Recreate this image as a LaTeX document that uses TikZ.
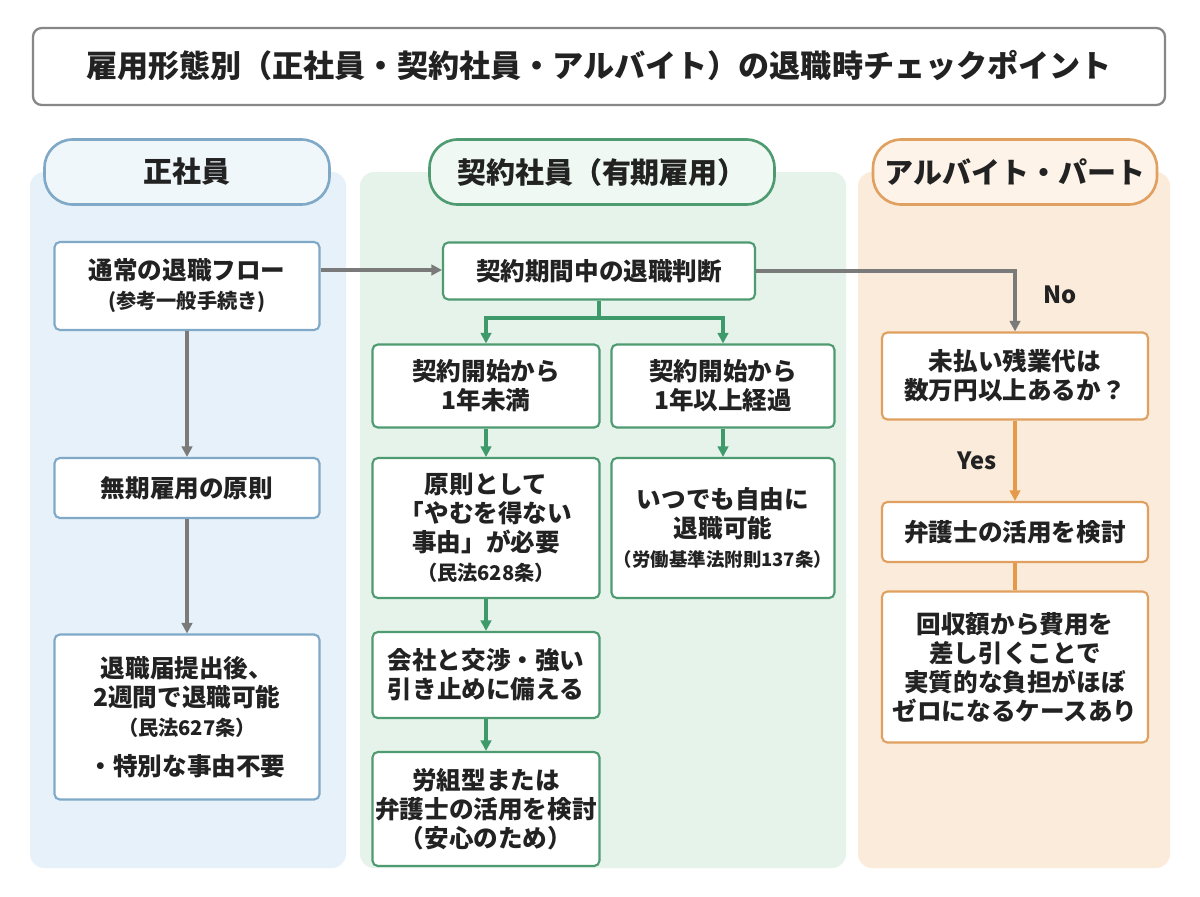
\documentclass[tikz,border=0pt]{standalone}
\usepackage{fontspec}
\setmainfont{Noto Sans CJK JP}
\usetikzlibrary{arrows.meta,calc}
\newcommand\smf{\bfseries\fontsize{11.5}{14}\selectfont}
\definecolor{gl}{HTML}{7A7A7A}
\definecolor{bbg}{HTML}{E6F1F9}\definecolor{bbd}{HTML}{7FA9C6}
\definecolor{gbg}{HTML}{E5F3EA}\definecolor{gbd}{HTML}{4E9B72}\definecolor{gar}{HTML}{3E9A6A}
\definecolor{obg}{HTML}{FBEBDA}\definecolor{obd}{HTML}{E0A060}\definecolor{oar}{HTML}{E49A4A}
\definecolor{txt}{HTML}{222222}
\begin{document}
\begin{tikzpicture}[x=0.02cm,y=-0.02cm,
 box/.style={draw=#1,line width=1.2pt,fill=white,rounded corners=3pt,font=\bfseries\fontsize{14}{16.5}\selectfont,text=txt,align=center,inner sep=1pt},
 pill/.style={draw=#1,line width=1.5pt,rounded corners=16pt,font=\bfseries\fontsize{16.5}{20}\selectfont,text=txt},
 ar/.style={-{Triangle[length=6pt,width=6pt]},line width=1.8pt,draw=#1}]
\useasboundingbox (0,0) rectangle (1200,896);
\fill[white] (0,0) rectangle (1200,896);
% title
\draw[draw=gl!90,line width=1.3pt,rounded corners=5pt,fill=white] (33,28) rectangle (1165,105);
\node[font=\bfseries\fontsize{17.7}{20}\selectfont,text=txt] (title) at (599,66) {雇用形態別（正社員・契約社員・アルバイト）の退職時チェックポイント};
% columns
\fill[bbg,rounded corners=8pt] (30,172) rectangle (346,868);
\fill[gbg,rounded corners=8pt] (360,172) rectangle (846,868);
\fill[obg,rounded corners=8pt] (858,172) rectangle (1170,868);
\node[pill=bbd,fill=bbg!60!white,minimum width=5.7cm,minimum height=1.3cm] (h1) at (187,172) {正社員};
\node[pill=gbd,fill=gbg!60!white,minimum width=6.9cm,minimum height=1.3cm] (h2) at (602,172) {契約社員（有期雇用）};
\node[pill=obd,fill=obg!60!white,minimum width=5.68cm,minimum height=1.3cm] (h3) at (1015,172) {アルバイト・パート};
% blue
\node[box=bbd,minimum width=5.3cm,minimum height=1.76cm] (b1) at (187,286) {通常の退職フロー\\{\smf(参考一般手続き)}};
\node[box=bbd,minimum width=5.3cm,minimum height=1.2cm] (b2) at (187,488) {無期雇用の原則};
\node[box=bbd,minimum width=5.3cm,minimum height=3.3cm] (b3) at (187,717) {退職届提出後、\\2週間で退職可能\\{\smf（民法627条）}\\[6pt]・特別な事由不要};
% green
\node[box=gbd,minimum width=6.24cm,minimum height=1.14cm] (g0) at (599,271) {契約期間中の退職判断};
\node[box=gbd,minimum width=4.54cm,minimum height=1.66cm] (g1) at (486,386) {契約開始から\\1年未満};
\node[box=gbd,minimum width=4.46cm,minimum height=1.66cm] (g2) at (723,386) {契約開始から\\1年以上経過};
\node[box=gbd,minimum width=4.54cm,minimum height=2.8cm] (g3) at (486,528) {原則として\\「やむを得ない\\事由」が必要\\{\smf（民法628条）}};
\node[box=gbd,minimum width=4.46cm,minimum height=2.8cm] (g4) at (723,528) {いつでも自由に\\退職可能\\{\bfseries\fontsize{10.5}{13}\selectfont（労働基準法附則137条）}};
\node[box=gbd,minimum width=4.54cm,minimum height=1.72cm] (g5) at (486,675) {会社と交渉・強い\\引き止めに備える};
\node[box=gbd,minimum width=4.54cm,minimum height=2.28cm] (g6) at (486,809) {労組型または\\弁護士の活用を検討\\（安心のため）};
% orange
\node[box=obd,minimum width=5.32cm,minimum height=1.74cm] (o1) at (1015,376) {未払い残業代は\\数万円以上あるか？};
\node[box=obd,minimum width=5.32cm,minimum height=1.2cm] (o2) at (1015,532) {弁護士の活用を検討};
\node[box=obd,minimum width=5.32cm,minimum height=3.02cm] (o3) at (1015,667) {回収額から費用を\\差し引くことで\\実質的な負担がほぼ\\ゼロになるケースあり};
% arrows
\draw[ar=gl] (b1.east|-0,270) -- (g0.west|-0,270);
\draw[ar=gl] (g0.east) -- (1015,271) -- (o1.north) node[pos=0.4,right=12pt,font=\bfseries\fontsize{13.5}{16}\selectfont,text=txt]{No};
\draw[ar=gl] (b1.south) -- (b2.north);
\draw[ar=gl] (b2.south) -- (b3.north);
\coordinate (sp) at (599,318);
\draw[line width=1.8pt,gar] (g0.south) -- (sp);
\draw[ar=gar] (sp) -| (g1.north);
\draw[ar=gar] (sp) -| (g2.north);
\draw[ar=gar] (g1.south) -- (g3.north);
\draw[ar=gar] (g2.south) -- (g4.north);
\draw[ar=gar] (g3.south) -- (g5.north);
\draw[ar=gar] (g5.south) -- (g6.north);
\draw[ar=oar] (o1.south) -- (o2.north) node[midway,left=6pt,font=\bfseries\fontsize{13.5}{16}\selectfont,text=txt]{Yes};
\draw[line width=1.8pt,oar] (o2.south) -- (o3.north);
\end{tikzpicture}
\end{document}
